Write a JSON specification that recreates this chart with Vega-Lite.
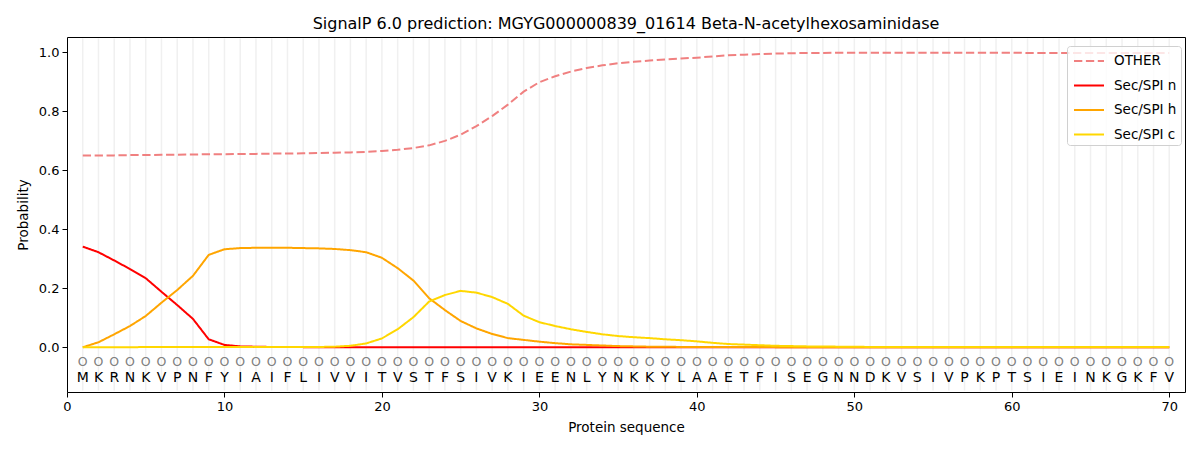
{
  "$schema": "https://vega.github.io/schema/vega-lite/v6.json",
  "description": "SignalP 6.0 prediction",
  "width": 1118,
  "height": 355,
  "autosize": {"type": "none"},
  "padding": {"left": 67, "top": 37, "right": 15, "bottom": 58},
  "title": {
    "text": "SignalP 6.0 prediction: MGYG000000839_01614 Beta-N-acetylhexosaminidase",
    "fontSize": 16,
    "fontWeight": "normal",
    "font": "DejaVu Sans",
    "color": "black",
    "offset": 5
  },
  "datasets": {
    "residues": [
      {"pos": 1, "aa": "M", "pred": "O"}, {"pos": 2, "aa": "K", "pred": "O"}, {"pos": 3, "aa": "R", "pred": "O"},
      {"pos": 4, "aa": "N", "pred": "O"}, {"pos": 5, "aa": "K", "pred": "O"}, {"pos": 6, "aa": "V", "pred": "O"},
      {"pos": 7, "aa": "P", "pred": "O"}, {"pos": 8, "aa": "N", "pred": "O"}, {"pos": 9, "aa": "F", "pred": "O"},
      {"pos": 10, "aa": "Y", "pred": "O"}, {"pos": 11, "aa": "I", "pred": "O"}, {"pos": 12, "aa": "A", "pred": "O"},
      {"pos": 13, "aa": "I", "pred": "O"}, {"pos": 14, "aa": "F", "pred": "O"}, {"pos": 15, "aa": "L", "pred": "O"},
      {"pos": 16, "aa": "I", "pred": "O"}, {"pos": 17, "aa": "V", "pred": "O"}, {"pos": 18, "aa": "V", "pred": "O"},
      {"pos": 19, "aa": "I", "pred": "O"}, {"pos": 20, "aa": "T", "pred": "O"}, {"pos": 21, "aa": "V", "pred": "O"},
      {"pos": 22, "aa": "S", "pred": "O"}, {"pos": 23, "aa": "T", "pred": "O"}, {"pos": 24, "aa": "F", "pred": "O"},
      {"pos": 25, "aa": "S", "pred": "O"}, {"pos": 26, "aa": "I", "pred": "O"}, {"pos": 27, "aa": "V", "pred": "O"},
      {"pos": 28, "aa": "K", "pred": "O"}, {"pos": 29, "aa": "I", "pred": "O"}, {"pos": 30, "aa": "E", "pred": "O"},
      {"pos": 31, "aa": "E", "pred": "O"}, {"pos": 32, "aa": "N", "pred": "O"}, {"pos": 33, "aa": "L", "pred": "O"},
      {"pos": 34, "aa": "Y", "pred": "O"}, {"pos": 35, "aa": "N", "pred": "O"}, {"pos": 36, "aa": "K", "pred": "O"},
      {"pos": 37, "aa": "K", "pred": "O"}, {"pos": 38, "aa": "Y", "pred": "O"}, {"pos": 39, "aa": "L", "pred": "O"},
      {"pos": 40, "aa": "A", "pred": "O"}, {"pos": 41, "aa": "A", "pred": "O"}, {"pos": 42, "aa": "E", "pred": "O"},
      {"pos": 43, "aa": "T", "pred": "O"}, {"pos": 44, "aa": "F", "pred": "O"}, {"pos": 45, "aa": "I", "pred": "O"},
      {"pos": 46, "aa": "S", "pred": "O"}, {"pos": 47, "aa": "E", "pred": "O"}, {"pos": 48, "aa": "G", "pred": "O"},
      {"pos": 49, "aa": "N", "pred": "O"}, {"pos": 50, "aa": "N", "pred": "O"}, {"pos": 51, "aa": "D", "pred": "O"},
      {"pos": 52, "aa": "K", "pred": "O"}, {"pos": 53, "aa": "V", "pred": "O"}, {"pos": 54, "aa": "S", "pred": "O"},
      {"pos": 55, "aa": "I", "pred": "O"}, {"pos": 56, "aa": "V", "pred": "O"}, {"pos": 57, "aa": "P", "pred": "O"},
      {"pos": 58, "aa": "K", "pred": "O"}, {"pos": 59, "aa": "P", "pred": "O"}, {"pos": 60, "aa": "T", "pred": "O"},
      {"pos": 61, "aa": "S", "pred": "O"}, {"pos": 62, "aa": "I", "pred": "O"}, {"pos": 63, "aa": "E", "pred": "O"},
      {"pos": 64, "aa": "I", "pred": "O"}, {"pos": 65, "aa": "N", "pred": "O"}, {"pos": 66, "aa": "K", "pred": "O"},
      {"pos": 67, "aa": "G", "pred": "O"}, {"pos": 68, "aa": "K", "pred": "O"}, {"pos": 69, "aa": "F", "pred": "O"},
      {"pos": 70, "aa": "V", "pred": "O"}
    ],
    "probs": [
      {"pos": 1, "series": "OTHER", "prob": 0.650}, {"pos": 2, "series": "OTHER", "prob": 0.650},
      {"pos": 3, "series": "OTHER", "prob": 0.650}, {"pos": 4, "series": "OTHER", "prob": 0.651},
      {"pos": 5, "series": "OTHER", "prob": 0.651}, {"pos": 6, "series": "OTHER", "prob": 0.652},
      {"pos": 7, "series": "OTHER", "prob": 0.652}, {"pos": 8, "series": "OTHER", "prob": 0.653},
      {"pos": 9, "series": "OTHER", "prob": 0.654}, {"pos": 10, "series": "OTHER", "prob": 0.654},
      {"pos": 11, "series": "OTHER", "prob": 0.655}, {"pos": 12, "series": "OTHER", "prob": 0.655},
      {"pos": 13, "series": "OTHER", "prob": 0.656}, {"pos": 14, "series": "OTHER", "prob": 0.656},
      {"pos": 15, "series": "OTHER", "prob": 0.657}, {"pos": 16, "series": "OTHER", "prob": 0.658},
      {"pos": 17, "series": "OTHER", "prob": 0.659}, {"pos": 18, "series": "OTHER", "prob": 0.660},
      {"pos": 19, "series": "OTHER", "prob": 0.662}, {"pos": 20, "series": "OTHER", "prob": 0.665},
      {"pos": 21, "series": "OTHER", "prob": 0.669}, {"pos": 22, "series": "OTHER", "prob": 0.675},
      {"pos": 23, "series": "OTHER", "prob": 0.684}, {"pos": 24, "series": "OTHER", "prob": 0.699},
      {"pos": 25, "series": "OTHER", "prob": 0.720}, {"pos": 26, "series": "OTHER", "prob": 0.749},
      {"pos": 27, "series": "OTHER", "prob": 0.783}, {"pos": 28, "series": "OTHER", "prob": 0.822},
      {"pos": 29, "series": "OTHER", "prob": 0.866}, {"pos": 30, "series": "OTHER", "prob": 0.898},
      {"pos": 31, "series": "OTHER", "prob": 0.918}, {"pos": 32, "series": "OTHER", "prob": 0.934},
      {"pos": 33, "series": "OTHER", "prob": 0.946}, {"pos": 34, "series": "OTHER", "prob": 0.955},
      {"pos": 35, "series": "OTHER", "prob": 0.962}, {"pos": 36, "series": "OTHER", "prob": 0.967},
      {"pos": 37, "series": "OTHER", "prob": 0.971}, {"pos": 38, "series": "OTHER", "prob": 0.975},
      {"pos": 39, "series": "OTHER", "prob": 0.978}, {"pos": 40, "series": "OTHER", "prob": 0.981},
      {"pos": 41, "series": "OTHER", "prob": 0.985}, {"pos": 42, "series": "OTHER", "prob": 0.989},
      {"pos": 43, "series": "OTHER", "prob": 0.991}, {"pos": 44, "series": "OTHER", "prob": 0.993},
      {"pos": 45, "series": "OTHER", "prob": 0.995}, {"pos": 46, "series": "OTHER", "prob": 0.996},
      {"pos": 47, "series": "OTHER", "prob": 0.997}, {"pos": 48, "series": "OTHER", "prob": 0.997},
      {"pos": 49, "series": "OTHER", "prob": 0.998}, {"pos": 50, "series": "OTHER", "prob": 0.998},
      {"pos": 51, "series": "OTHER", "prob": 0.998}, {"pos": 52, "series": "OTHER", "prob": 0.998},
      {"pos": 53, "series": "OTHER", "prob": 0.998}, {"pos": 54, "series": "OTHER", "prob": 0.998},
      {"pos": 55, "series": "OTHER", "prob": 0.998}, {"pos": 56, "series": "OTHER", "prob": 0.998},
      {"pos": 57, "series": "OTHER", "prob": 0.998}, {"pos": 58, "series": "OTHER", "prob": 0.998},
      {"pos": 59, "series": "OTHER", "prob": 0.998}, {"pos": 60, "series": "OTHER", "prob": 0.998},
      {"pos": 61, "series": "OTHER", "prob": 0.997}, {"pos": 62, "series": "OTHER", "prob": 0.997},
      {"pos": 63, "series": "OTHER", "prob": 0.997}, {"pos": 64, "series": "OTHER", "prob": 0.997},
      {"pos": 65, "series": "OTHER", "prob": 0.997}, {"pos": 66, "series": "OTHER", "prob": 0.997},
      {"pos": 67, "series": "OTHER", "prob": 0.997}, {"pos": 68, "series": "OTHER", "prob": 0.997},
      {"pos": 69, "series": "OTHER", "prob": 0.997}, {"pos": 70, "series": "OTHER", "prob": 0.997},

      {"pos": 1, "series": "Sec/SPI n", "prob": 0.341}, {"pos": 2, "series": "Sec/SPI n", "prob": 0.322},
      {"pos": 3, "series": "Sec/SPI n", "prob": 0.294}, {"pos": 4, "series": "Sec/SPI n", "prob": 0.265},
      {"pos": 5, "series": "Sec/SPI n", "prob": 0.234}, {"pos": 6, "series": "Sec/SPI n", "prob": 0.188},
      {"pos": 7, "series": "Sec/SPI n", "prob": 0.143}, {"pos": 8, "series": "Sec/SPI n", "prob": 0.096},
      {"pos": 9, "series": "Sec/SPI n", "prob": 0.027}, {"pos": 10, "series": "Sec/SPI n", "prob": 0.008},
      {"pos": 11, "series": "Sec/SPI n", "prob": 0.003}, {"pos": 12, "series": "Sec/SPI n", "prob": 0.002},
      {"pos": 13, "series": "Sec/SPI n", "prob": 0.001}, {"pos": 14, "series": "Sec/SPI n", "prob": 0.001},
      {"pos": 15, "series": "Sec/SPI n", "prob": 0.0005}, {"pos": 16, "series": "Sec/SPI n", "prob": 0.0005},
      {"pos": 17, "series": "Sec/SPI n", "prob": 0.0003}, {"pos": 18, "series": "Sec/SPI n", "prob": 0.0003},
      {"pos": 19, "series": "Sec/SPI n", "prob": 0.0002}, {"pos": 20, "series": "Sec/SPI n", "prob": 0.0002},
      {"pos": 21, "series": "Sec/SPI n", "prob": 0.0001}, {"pos": 22, "series": "Sec/SPI n", "prob": 0.0001},
      {"pos": 23, "series": "Sec/SPI n", "prob": 0.0001}, {"pos": 24, "series": "Sec/SPI n", "prob": 0.0001},
      {"pos": 25, "series": "Sec/SPI n", "prob": 0.0001}, {"pos": 26, "series": "Sec/SPI n", "prob": 0.0001},
      {"pos": 27, "series": "Sec/SPI n", "prob": 0.0001}, {"pos": 28, "series": "Sec/SPI n", "prob": 0.0001},
      {"pos": 29, "series": "Sec/SPI n", "prob": 0.0001}, {"pos": 30, "series": "Sec/SPI n", "prob": 0.0001},
      {"pos": 31, "series": "Sec/SPI n", "prob": 0.0}, {"pos": 32, "series": "Sec/SPI n", "prob": 0.0},
      {"pos": 33, "series": "Sec/SPI n", "prob": 0.0}, {"pos": 34, "series": "Sec/SPI n", "prob": 0.0},
      {"pos": 35, "series": "Sec/SPI n", "prob": 0.0}, {"pos": 36, "series": "Sec/SPI n", "prob": 0.0},
      {"pos": 37, "series": "Sec/SPI n", "prob": 0.0}, {"pos": 38, "series": "Sec/SPI n", "prob": 0.0},
      {"pos": 39, "series": "Sec/SPI n", "prob": 0.0}, {"pos": 40, "series": "Sec/SPI n", "prob": 0.0},
      {"pos": 41, "series": "Sec/SPI n", "prob": 0.0}, {"pos": 42, "series": "Sec/SPI n", "prob": 0.0},
      {"pos": 43, "series": "Sec/SPI n", "prob": 0.0}, {"pos": 44, "series": "Sec/SPI n", "prob": 0.0},
      {"pos": 45, "series": "Sec/SPI n", "prob": 0.0}, {"pos": 46, "series": "Sec/SPI n", "prob": 0.0},
      {"pos": 47, "series": "Sec/SPI n", "prob": 0.0}, {"pos": 48, "series": "Sec/SPI n", "prob": 0.0},
      {"pos": 49, "series": "Sec/SPI n", "prob": 0.0}, {"pos": 50, "series": "Sec/SPI n", "prob": 0.0},
      {"pos": 51, "series": "Sec/SPI n", "prob": 0.0}, {"pos": 52, "series": "Sec/SPI n", "prob": 0.0},
      {"pos": 53, "series": "Sec/SPI n", "prob": 0.0}, {"pos": 54, "series": "Sec/SPI n", "prob": 0.0},
      {"pos": 55, "series": "Sec/SPI n", "prob": 0.0}, {"pos": 56, "series": "Sec/SPI n", "prob": 0.0},
      {"pos": 57, "series": "Sec/SPI n", "prob": 0.0}, {"pos": 58, "series": "Sec/SPI n", "prob": 0.0},
      {"pos": 59, "series": "Sec/SPI n", "prob": 0.0}, {"pos": 60, "series": "Sec/SPI n", "prob": 0.0},
      {"pos": 61, "series": "Sec/SPI n", "prob": 0.0}, {"pos": 62, "series": "Sec/SPI n", "prob": 0.0},
      {"pos": 63, "series": "Sec/SPI n", "prob": 0.0}, {"pos": 64, "series": "Sec/SPI n", "prob": 0.0},
      {"pos": 65, "series": "Sec/SPI n", "prob": 0.0}, {"pos": 66, "series": "Sec/SPI n", "prob": 0.0},
      {"pos": 67, "series": "Sec/SPI n", "prob": 0.0}, {"pos": 68, "series": "Sec/SPI n", "prob": 0.0},
      {"pos": 69, "series": "Sec/SPI n", "prob": 0.0}, {"pos": 70, "series": "Sec/SPI n", "prob": 0.0},

      {"pos": 1, "series": "Sec/SPI h", "prob": 0.000}, {"pos": 2, "series": "Sec/SPI h", "prob": 0.017},
      {"pos": 3, "series": "Sec/SPI h", "prob": 0.044}, {"pos": 4, "series": "Sec/SPI h", "prob": 0.072},
      {"pos": 5, "series": "Sec/SPI h", "prob": 0.106}, {"pos": 6, "series": "Sec/SPI h", "prob": 0.151},
      {"pos": 7, "series": "Sec/SPI h", "prob": 0.194}, {"pos": 8, "series": "Sec/SPI h", "prob": 0.242},
      {"pos": 9, "series": "Sec/SPI h", "prob": 0.313}, {"pos": 10, "series": "Sec/SPI h", "prob": 0.332},
      {"pos": 11, "series": "Sec/SPI h", "prob": 0.336}, {"pos": 12, "series": "Sec/SPI h", "prob": 0.337},
      {"pos": 13, "series": "Sec/SPI h", "prob": 0.337}, {"pos": 14, "series": "Sec/SPI h", "prob": 0.337},
      {"pos": 15, "series": "Sec/SPI h", "prob": 0.336}, {"pos": 16, "series": "Sec/SPI h", "prob": 0.335},
      {"pos": 17, "series": "Sec/SPI h", "prob": 0.333}, {"pos": 18, "series": "Sec/SPI h", "prob": 0.329},
      {"pos": 19, "series": "Sec/SPI h", "prob": 0.322}, {"pos": 20, "series": "Sec/SPI h", "prob": 0.303},
      {"pos": 21, "series": "Sec/SPI h", "prob": 0.268}, {"pos": 22, "series": "Sec/SPI h", "prob": 0.226},
      {"pos": 23, "series": "Sec/SPI h", "prob": 0.166}, {"pos": 24, "series": "Sec/SPI h", "prob": 0.126},
      {"pos": 25, "series": "Sec/SPI h", "prob": 0.089}, {"pos": 26, "series": "Sec/SPI h", "prob": 0.064},
      {"pos": 27, "series": "Sec/SPI h", "prob": 0.045}, {"pos": 28, "series": "Sec/SPI h", "prob": 0.031},
      {"pos": 29, "series": "Sec/SPI h", "prob": 0.025}, {"pos": 30, "series": "Sec/SPI h", "prob": 0.019},
      {"pos": 31, "series": "Sec/SPI h", "prob": 0.014}, {"pos": 32, "series": "Sec/SPI h", "prob": 0.010},
      {"pos": 33, "series": "Sec/SPI h", "prob": 0.008}, {"pos": 34, "series": "Sec/SPI h", "prob": 0.006},
      {"pos": 35, "series": "Sec/SPI h", "prob": 0.004}, {"pos": 36, "series": "Sec/SPI h", "prob": 0.003},
      {"pos": 37, "series": "Sec/SPI h", "prob": 0.002}, {"pos": 38, "series": "Sec/SPI h", "prob": 0.002},
      {"pos": 39, "series": "Sec/SPI h", "prob": 0.001}, {"pos": 40, "series": "Sec/SPI h", "prob": 0.001},
      {"pos": 41, "series": "Sec/SPI h", "prob": 0.001}, {"pos": 42, "series": "Sec/SPI h", "prob": 0.001},
      {"pos": 43, "series": "Sec/SPI h", "prob": 0.001}, {"pos": 44, "series": "Sec/SPI h", "prob": 0.001},
      {"pos": 45, "series": "Sec/SPI h", "prob": 0.0005}, {"pos": 46, "series": "Sec/SPI h", "prob": 0.0005},
      {"pos": 47, "series": "Sec/SPI h", "prob": 0.0005}, {"pos": 48, "series": "Sec/SPI h", "prob": 0.0005},
      {"pos": 49, "series": "Sec/SPI h", "prob": 0.0005}, {"pos": 50, "series": "Sec/SPI h", "prob": 0.0005},
      {"pos": 51, "series": "Sec/SPI h", "prob": 0.0003}, {"pos": 52, "series": "Sec/SPI h", "prob": 0.0003},
      {"pos": 53, "series": "Sec/SPI h", "prob": 0.0003}, {"pos": 54, "series": "Sec/SPI h", "prob": 0.0003},
      {"pos": 55, "series": "Sec/SPI h", "prob": 0.0003}, {"pos": 56, "series": "Sec/SPI h", "prob": 0.0003},
      {"pos": 57, "series": "Sec/SPI h", "prob": 0.0003}, {"pos": 58, "series": "Sec/SPI h", "prob": 0.0003},
      {"pos": 59, "series": "Sec/SPI h", "prob": 0.0003}, {"pos": 60, "series": "Sec/SPI h", "prob": 0.0003},
      {"pos": 61, "series": "Sec/SPI h", "prob": 0.0003}, {"pos": 62, "series": "Sec/SPI h", "prob": 0.0003},
      {"pos": 63, "series": "Sec/SPI h", "prob": 0.0003}, {"pos": 64, "series": "Sec/SPI h", "prob": 0.0003},
      {"pos": 65, "series": "Sec/SPI h", "prob": 0.0003}, {"pos": 66, "series": "Sec/SPI h", "prob": 0.0003},
      {"pos": 67, "series": "Sec/SPI h", "prob": 0.0003}, {"pos": 68, "series": "Sec/SPI h", "prob": 0.0003},
      {"pos": 69, "series": "Sec/SPI h", "prob": 0.0003}, {"pos": 70, "series": "Sec/SPI h", "prob": 0.0003},

      {"pos": 1, "series": "Sec/SPI c", "prob": 0.000}, {"pos": 2, "series": "Sec/SPI c", "prob": 0.000},
      {"pos": 3, "series": "Sec/SPI c", "prob": 0.000}, {"pos": 4, "series": "Sec/SPI c", "prob": 0.000},
      {"pos": 5, "series": "Sec/SPI c", "prob": 0.001}, {"pos": 6, "series": "Sec/SPI c", "prob": 0.001},
      {"pos": 7, "series": "Sec/SPI c", "prob": 0.001}, {"pos": 8, "series": "Sec/SPI c", "prob": 0.001},
      {"pos": 9, "series": "Sec/SPI c", "prob": 0.001}, {"pos": 10, "series": "Sec/SPI c", "prob": 0.001},
      {"pos": 11, "series": "Sec/SPI c", "prob": 0.001}, {"pos": 12, "series": "Sec/SPI c", "prob": 0.001},
      {"pos": 13, "series": "Sec/SPI c", "prob": 0.001}, {"pos": 14, "series": "Sec/SPI c", "prob": 0.001},
      {"pos": 15, "series": "Sec/SPI c", "prob": 0.001}, {"pos": 16, "series": "Sec/SPI c", "prob": 0.001},
      {"pos": 17, "series": "Sec/SPI c", "prob": 0.002}, {"pos": 18, "series": "Sec/SPI c", "prob": 0.005},
      {"pos": 19, "series": "Sec/SPI c", "prob": 0.013}, {"pos": 20, "series": "Sec/SPI c", "prob": 0.030},
      {"pos": 21, "series": "Sec/SPI c", "prob": 0.061}, {"pos": 22, "series": "Sec/SPI c", "prob": 0.102},
      {"pos": 23, "series": "Sec/SPI c", "prob": 0.155}, {"pos": 24, "series": "Sec/SPI c", "prob": 0.177},
      {"pos": 25, "series": "Sec/SPI c", "prob": 0.191}, {"pos": 26, "series": "Sec/SPI c", "prob": 0.185},
      {"pos": 27, "series": "Sec/SPI c", "prob": 0.170}, {"pos": 28, "series": "Sec/SPI c", "prob": 0.147},
      {"pos": 29, "series": "Sec/SPI c", "prob": 0.107}, {"pos": 30, "series": "Sec/SPI c", "prob": 0.085},
      {"pos": 31, "series": "Sec/SPI c", "prob": 0.072}, {"pos": 32, "series": "Sec/SPI c", "prob": 0.061},
      {"pos": 33, "series": "Sec/SPI c", "prob": 0.052}, {"pos": 34, "series": "Sec/SPI c", "prob": 0.044},
      {"pos": 35, "series": "Sec/SPI c", "prob": 0.038}, {"pos": 36, "series": "Sec/SPI c", "prob": 0.034},
      {"pos": 37, "series": "Sec/SPI c", "prob": 0.031}, {"pos": 38, "series": "Sec/SPI c", "prob": 0.027},
      {"pos": 39, "series": "Sec/SPI c", "prob": 0.024}, {"pos": 40, "series": "Sec/SPI c", "prob": 0.020},
      {"pos": 41, "series": "Sec/SPI c", "prob": 0.015}, {"pos": 42, "series": "Sec/SPI c", "prob": 0.011},
      {"pos": 43, "series": "Sec/SPI c", "prob": 0.009}, {"pos": 44, "series": "Sec/SPI c", "prob": 0.007},
      {"pos": 45, "series": "Sec/SPI c", "prob": 0.005}, {"pos": 46, "series": "Sec/SPI c", "prob": 0.004},
      {"pos": 47, "series": "Sec/SPI c", "prob": 0.003}, {"pos": 48, "series": "Sec/SPI c", "prob": 0.003},
      {"pos": 49, "series": "Sec/SPI c", "prob": 0.002}, {"pos": 50, "series": "Sec/SPI c", "prob": 0.002},
      {"pos": 51, "series": "Sec/SPI c", "prob": 0.001}, {"pos": 52, "series": "Sec/SPI c", "prob": 0.001},
      {"pos": 53, "series": "Sec/SPI c", "prob": 0.001}, {"pos": 54, "series": "Sec/SPI c", "prob": 0.001},
      {"pos": 55, "series": "Sec/SPI c", "prob": 0.001}, {"pos": 56, "series": "Sec/SPI c", "prob": 0.001},
      {"pos": 57, "series": "Sec/SPI c", "prob": 0.001}, {"pos": 58, "series": "Sec/SPI c", "prob": 0.001},
      {"pos": 59, "series": "Sec/SPI c", "prob": 0.001}, {"pos": 60, "series": "Sec/SPI c", "prob": 0.001},
      {"pos": 61, "series": "Sec/SPI c", "prob": 0.001}, {"pos": 62, "series": "Sec/SPI c", "prob": 0.001},
      {"pos": 63, "series": "Sec/SPI c", "prob": 0.001}, {"pos": 64, "series": "Sec/SPI c", "prob": 0.001},
      {"pos": 65, "series": "Sec/SPI c", "prob": 0.001}, {"pos": 66, "series": "Sec/SPI c", "prob": 0.001},
      {"pos": 67, "series": "Sec/SPI c", "prob": 0.001}, {"pos": 68, "series": "Sec/SPI c", "prob": 0.001},
      {"pos": 69, "series": "Sec/SPI c", "prob": 0.001}, {"pos": 70, "series": "Sec/SPI c", "prob": 0.001}
    ]
  },
  "layer": [
    {
      "data": {"name": "residues"},
      "mark": {"type": "rule", "color": "#f0f0f0", "strokeWidth": 1.5},
      "encoding": {
        "x": {
          "field": "pos",
          "type": "quantitative",
          "scale": {"domain": [0, 71], "nice": false, "zero": false},
          "axis": {
            "values": [0, 10, 20, 30, 40, 50, 60, 70],
            "title": "Protein sequence",
            "grid": false
          }
        },
        "y": {"datum": -0.146},
        "y2": {"datum": 1.046}
      }
    },
    {
      "data": {"name": "probs"},
      "mark": {"type": "line", "strokeWidth": 2},
      "encoding": {
        "x": {"field": "pos", "type": "quantitative"},
        "y": {
          "field": "prob",
          "type": "quantitative",
          "scale": {"domain": [-0.1515, 1.051], "nice": false, "zero": false},
          "axis": {
            "values": [0, 0.2, 0.4, 0.6, 0.8, 1.0],
            "format": ".1f",
            "title": "Probability",
            "grid": false
          }
        },
        "color": {
          "field": "series",
          "type": "nominal",
          "scale": {
            "domain": ["OTHER", "Sec/SPI n", "Sec/SPI h", "Sec/SPI c"],
            "range": ["#F08080", "#FF0000", "#FFA500", "#FFD700"]
          },
          "legend": {"title": null}
        },
        "strokeDash": {
          "field": "series",
          "type": "nominal",
          "scale": {
            "domain": ["OTHER", "Sec/SPI n", "Sec/SPI h", "Sec/SPI c"],
            "range": [[8.3, 3.6], [1, 0], [1, 0], [1, 0]]
          },
          "legend": {"title": null}
        },
        "order": {"field": "pos"}
      }
    },
    {
      "data": {"name": "residues"},
      "mark": {"type": "text", "color": "#808080", "fontSize": 12.5, "font": "DejaVu Sans", "baseline": "alphabetic", "align": "center"},
      "encoding": {
        "x": {"field": "pos", "type": "quantitative"},
        "y": {"datum": -0.062},
        "text": {"field": "pred"}
      }
    },
    {
      "data": {"name": "residues"},
      "mark": {"type": "text", "color": "black", "fontSize": 14, "font": "DejaVu Sans", "baseline": "alphabetic", "align": "center"},
      "encoding": {
        "x": {"field": "pos", "type": "quantitative"},
        "y": {"datum": -0.1166},
        "text": {"field": "aa"}
      }
    }
  ],
  "config": {
    "font": "DejaVu Sans",
    "view": {"stroke": "black", "strokeWidth": 1},
    "axis": {
      "domain": false,
      "tickColor": "black",
      "tickSize": 5,
      "tickWidth": 1,
      "labelColor": "black",
      "labelFont": "DejaVu Sans",
      "labelFontSize": 13,
      "labelPadding": 3,
      "titleFont": "DejaVu Sans",
      "titleFontSize": 13.5,
      "titleFontWeight": "normal",
      "titleColor": "black"
    },
    "axisX": {"titlePadding": 7, "labelFlush": false},
    "axisY": {"titlePadding": 8},
    "legend": {
      "orient": "none",
      "legendX": 1000,
      "legendY": 9,
      "padding": 4,
      "strokeColor": "#d0d0d0",
      "fillColor": "rgba(255,255,255,0.8)",
      "cornerRadius": 3,
      "symbolType": "M-0.8,0L2.2,0",
      "symbolSize": 400,
      "symbolStrokeWidth": 2,
      "labelFont": "DejaVu Sans",
      "labelFontSize": 13.5,
      "labelColor": "black",
      "labelOffset": 21,
      "rowPadding": 6.5
    }
  }
}
